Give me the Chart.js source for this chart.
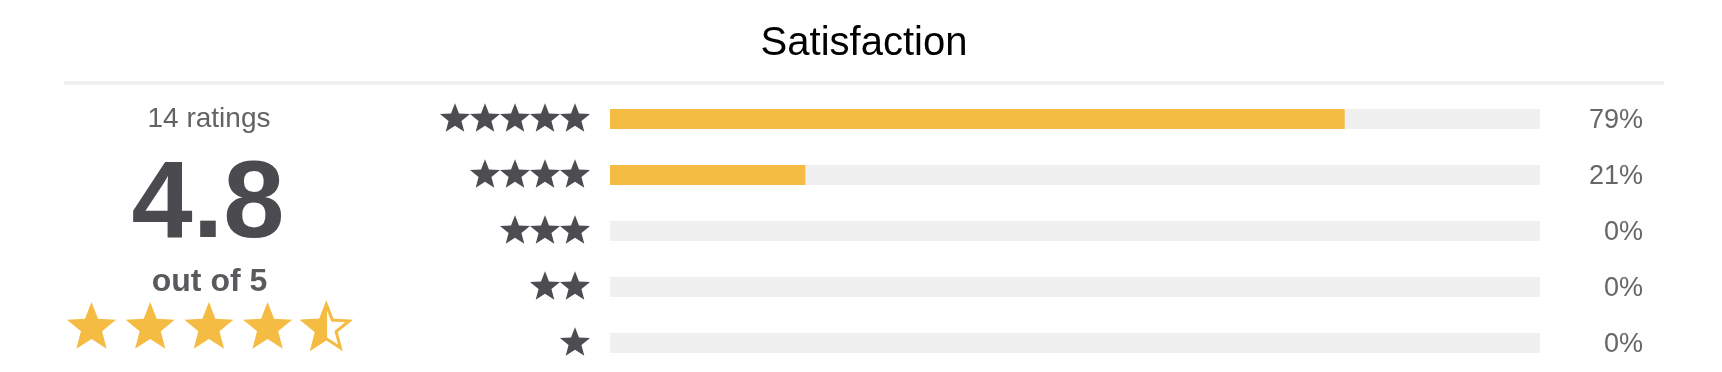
<!DOCTYPE html>
<html>
<head>
<meta charset="utf-8">
<title>Satisfaction</title>
<script src="https://cdn.jsdelivr.net/npm/chart.js@4"></script>
<style>
    body { margin: 0; background: #fff; }
    #wrap { width: 1722px; height: 372px; position: relative; }
</style>
</head>
<body>
<div id="wrap"><canvas id="barChart"></canvas></div>
<script>
const starLevels = [5, 4, 3, 2, 1]
const categories = ['5 stars', '4 stars', '3 stars', '2 stars', '1 star']
const percents = [79, 21, 0, 0, 0]
const percentLabels = percents.map(p => p + '%')
const ratingCount = 14
const averageScore = 4.8
const maxScore = 5

const GOLD = '#f4bc43'
const TRACK = '#f0f0f0'
const DARK = '#4d4c51'

function starPath(ctx, cx, cy, R) {
    const r = R * 0.43
    ctx.beginPath()
    for (let i = 0; i < 10; i++) {
        const rad = i % 2 === 0 ? R : r
        const a = -Math.PI / 2 + i * Math.PI / 5
        const x = cx + rad * Math.cos(a)
        const y = cy + rad * Math.sin(a)
        if (i === 0) ctx.moveTo(x, y)
        else ctx.lineTo(x, y)
    }
    ctx.closePath()
}

// stars next to each bar, separator line and the summary block on the left
const extrasPlugin = {
    id: 'extras',
    afterDraw(chart) {
        const ctx = chart.ctx
        const yScale = chart.scales.y
        ctx.save()

        ctx.fillStyle = TRACK
        ctx.fillRect(64, 81, 1600, 4)

        ctx.fillStyle = DARK
        starLevels.forEach((count, i) => {
            const cy = yScale.getPixelForValue(i)
            for (let k = 0; k < count; k++) {
                starPath(ctx, 575 - k * 30, cy, 15.8)
                ctx.fill()
            }
        })

        ctx.textAlign = 'center'
        ctx.textBaseline = 'alphabetic'
        ctx.fillStyle = '#636363'
        ctx.font = '28px "Liberation Sans", Arial, sans-serif'
        ctx.fillText(ratingCount + ' ratings', 209, 127)

        ctx.fillStyle = '#4a4a4f'
        ctx.font = 'bold 110px "Liberation Sans", Arial, sans-serif'
        ctx.fillText(averageScore.toFixed(1), 208, 237)

        ctx.fillStyle = '#5a5a5e'
        ctx.font = 'bold 32px "Liberation Sans", Arial, sans-serif'
        ctx.fillText('out of ' + maxScore, 209.5, 291)

        const shown = Math.floor(averageScore * 2) / 2
        for (let k = 0; k < maxScore; k++) {
            const cx = 91.5 + k * 58.7
            const cy = 327.8
            const fill = Math.max(0, Math.min(1, shown - k))
            ctx.fillStyle = GOLD
            if (fill >= 1) {
                starPath(ctx, cx, cy, 25.8)
                ctx.fill()
            } else {
                ctx.save()
                ctx.beginPath()
                ctx.rect(cx - 30, cy - 30, fill * 60 + 0.8, 60)
                ctx.clip()
                starPath(ctx, cx, cy, 25.8)
                ctx.fill()
                ctx.restore()
                ctx.strokeStyle = GOLD
                ctx.lineWidth = 3
                ctx.lineJoin = 'miter'
                starPath(ctx, cx, cy + 0.6, 24)
                ctx.stroke()
            }
        }
        ctx.restore()
    }
}

function buildChart() {
    const CHART = document.getElementById('barChart')
    new Chart(CHART, {
        type: 'bar',
        data: {
            labels: categories,
            datasets: [{
                data: percents,
                backgroundColor: GOLD,
                barThickness: 20,
                inflateAmount: 0,
                grouped: false,
                order: 0
            }, {
                data: categories.map(() => 100),
                backgroundColor: TRACK,
                barThickness: 20,
                inflateAmount: 0,
                grouped: false,
                order: 1
            }]
        },
        options: {
            indexAxis: 'y',
            responsive: true,
            maintainAspectRatio: false,
            animation: false,
            layout: { padding: { left: 85, right: 79, top: 0, bottom: 1 } },
            plugins: {
                legend: { display: false },
                tooltip: { enabled: false },
                title: {
                    display: true,
                    text: 'Satisfaction',
                    color: '#000',
                    font: { size: 40, weight: 'normal' },
                    padding: { top: 20, bottom: 23 }
                }
            },
            scales: {
                x: { display: false, min: 0, max: 100 },
                y: {
                    offset: true,
                    grid: { display: false },
                    border: { display: false },
                    ticks: { display: false },
                    afterFit(axis) {
                        axis.width = 525
                        axis.paddingTop = 0
                        axis.paddingBottom = 0
                    }
                },
                y2: {
                    type: 'category',
                    position: 'right',
                    labels: percentLabels,
                    offset: true,
                    grid: { display: false },
                    border: { display: false },
                    ticks: { color: '#666', crossAlign: 'far', labelOffset: 2, font: { size: 27 } },
                    afterFit(axis) {
                        axis.width = 103
                        axis.paddingTop = 0
                        axis.paddingBottom = 0
                    }
                }
            }
        },
        plugins: [extrasPlugin]
    })
}

window.addEventListener('load', () => {
    try {
        Chart.defaults.font.family = '"Liberation Sans", Arial, sans-serif'
        buildChart()
    } catch (e) {
        console.error(e)
    }
})
</script>
</body>
</html>
